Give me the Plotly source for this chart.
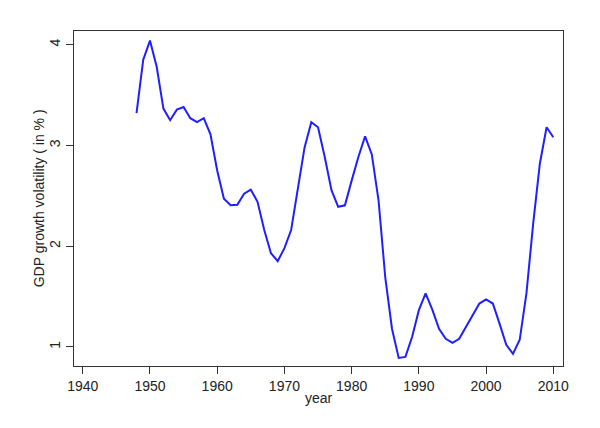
import plotly.graph_objects as go

years = list(range(1948, 2011))
volatility = [
    3.32, 3.85, 4.04, 3.78, 3.365, 3.25, 3.355, 3.38, 3.27, 3.23,  # 1948-1957
    3.27, 3.11, 2.75, 2.47, 2.405, 2.41, 2.52, 2.56, 2.44, 2.16,    # 1958-1967
    1.93, 1.85, 1.98, 2.16, 2.57, 2.98, 3.23, 3.18, 2.885, 2.555,   # 1968-1977
    2.39, 2.405, 2.65, 2.885, 3.09, 2.91, 2.455, 1.69, 1.18, 0.89,  # 1978-1987
    0.90, 1.10, 1.364, 1.53, 1.37, 1.18, 1.08, 1.04, 1.08, 1.20,    # 1988-1997
    1.315, 1.43, 1.47, 1.43, 1.23, 1.02, 0.93, 1.07, 1.53, 2.22,    # 1998-2007
    2.82, 3.18, 3.08,                                               # 2008-2010
]
x_ticks = [1940, 1950, 1960, 1970, 1980, 1990, 2000, 2010]
y_ticks = [1, 2, 3, 4]

fig = go.Figure()
fig.add_trace(go.Scatter(
    x=years, y=volatility, mode="lines",
    line=dict(color="#1f1fff", width=2),
    showlegend=False,
))

font = dict(family="Liberation Sans, Arial, sans-serif", size=14, color="#222")

fig.update_layout(
    width=600, height=428,
    margin=dict(l=74, r=37, t=31, b=62),
    paper_bgcolor="white", plot_bgcolor="white",
    font=font,
    xaxis=dict(
        range=[1938.7, 2011.44], tickvals=x_ticks,
        ticktext=[str(v) for v in x_ticks],
        showgrid=False, zeroline=False,
        showline=True, mirror=True, linecolor="#333", linewidth=1,
        ticks="outside", ticklen=7, tickcolor="#333",
        title=dict(text="year", standoff=0, font=font),
    ),
    yaxis=dict(
        range=[0.81, 4.135], tickvals=y_ticks,
        ticktext=[str(v) for v in y_ticks],
        tickangle=-90,
        showgrid=False, zeroline=False,
        showline=True, mirror=True, linecolor="#333", linewidth=1,
        ticks="outside", ticklen=7, tickcolor="#333",
    ),
    annotations=[dict(
        text="GDP growth volatility ( in % )", textangle=-90,
        xref="paper", yref="paper", x=-0.072, y=0.5,
        xanchor="center", yanchor="middle", showarrow=False, font=font,
    )],
)

fig.write_html("out.html", post_script="document.body.style.margin='0';",
               config={"displayModeBar": False})
